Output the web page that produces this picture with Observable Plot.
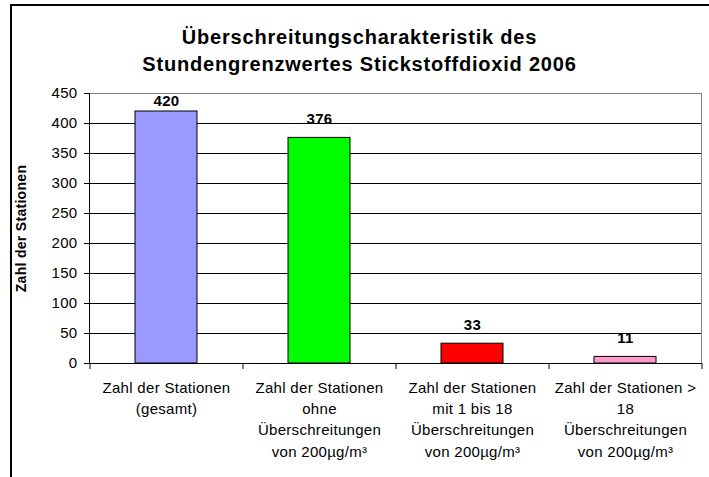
<!DOCTYPE html>
<html><head><meta charset="utf-8">
<script src="https://cdn.jsdelivr.net/npm/d3@7"></script>
<script src="https://cdn.jsdelivr.net/npm/@observablehq/plot@0.6"></script>
<style>
body{margin:0;background:#fff;font-family:"Liberation Sans",Arial,sans-serif}
#wrap{position:relative;width:709px;height:477px;overflow:hidden;background:#fff}
#border{position:absolute;left:10px;top:4px;width:720px;height:520px;border:2px solid #000;box-sizing:border-box}
#title{position:absolute;left:0;top:24px;width:719px;text-align:center;font-weight:bold;font-size:20px;line-height:27px;letter-spacing:0.8px;white-space:pre-line;color:#000}
#chart{position:absolute;left:0;top:0}
</style></head><body>
<div id="wrap"><div id="border"></div><div id="chart"></div><div id="title"></div></div>
<script>
const titleLines = ["Überschreitungscharakteristik des", "Stundengrenzwertes Stickstoffdioxid 2006"];
const categories = [
  "Zahl der Stationen\n(gesamt)",
  "Zahl der Stationen\nohne\nÜberschreitungen\nvon 200µg/m³",
  "Zahl der Stationen\nmit 1 bis 18\nÜberschreitungen\nvon 200µg/m³",
  "Zahl der Stationen >\n18\nÜberschreitungen\nvon 200µg/m³"
];
const values = [420, 376, 33, 11];
const colors = ["#9999FF", "#00FF00", "#FF0000", "#FF99CC"];
const yTicks = [0, 50, 100, 150, 200, 250, 300, 350, 400, 450];
const yLabel = "Zahl der Stationen";

document.getElementById("title").textContent = titleLines.join("\n");

const W = 709, H = 477, mL = 89, mR = 8, mT = 93, mB = 114;
const step = (W - mL - mR) / categories.length;
const data = categories.map((c, i) => ({c, v: values[i], col: colors[i]}));
const last = categories[categories.length - 1];

const plot = Plot.plot({
  width: W, height: H,
  marginLeft: mL, marginRight: mR, marginTop: mT, marginBottom: mB,
  style: "font-family:'Liberation Sans',Arial,sans-serif;font-size:15px;letter-spacing:0.3px;color:#000;background:transparent;overflow:visible",
  x: {domain: categories, paddingInner: 0.595, paddingOuter: 0.2975, label: null},
  y: {domain: [0, 450], label: null},
  marks: [
    Plot.gridY(yTicks.filter(t => t > 0 && t < 450), {stroke: "#000", strokeOpacity: 1}),
    Plot.frame({stroke: "#808080"}),
    Plot.barY(data, {x: "c", y: "v", fill: "col", stroke: "#000", strokeWidth: 1}),
    Plot.ruleY([0], {stroke: "#000"}),
    Plot.frame({anchor: "left", stroke: "#000"}),
    Plot.ruleX(categories, {x: d => d, y1: 0, y2: -10, dx: -step / 2, stroke: "#000"}),
    Plot.ruleX([last], {x: d => d, y1: 0, y2: -10, dx: step / 2, stroke: "#000"}),
    Plot.axisY({ticks: yTicks, tickSize: 5, tickPadding: 7, label: null, stroke: "#000"}),
    Plot.axisX({tickSize: 0, tickPadding: 14, lineHeight: 1.42, label: null}),
    Plot.text(data, {x: "c", y: d => Math.min(d.v, 405), text: d => String(d.v), dy: -19, lineAnchor: "middle", fontWeight: "bold", fontSize: 15}),
    Plot.text([yLabel], {frameAnchor: "left", rotate: -90, dx: -68, textAnchor: "middle", fontWeight: "bold", fontSize: 14, style: "letter-spacing:0"})
  ]
});
document.getElementById("chart").appendChild(plot);
</script>
</body></html>
